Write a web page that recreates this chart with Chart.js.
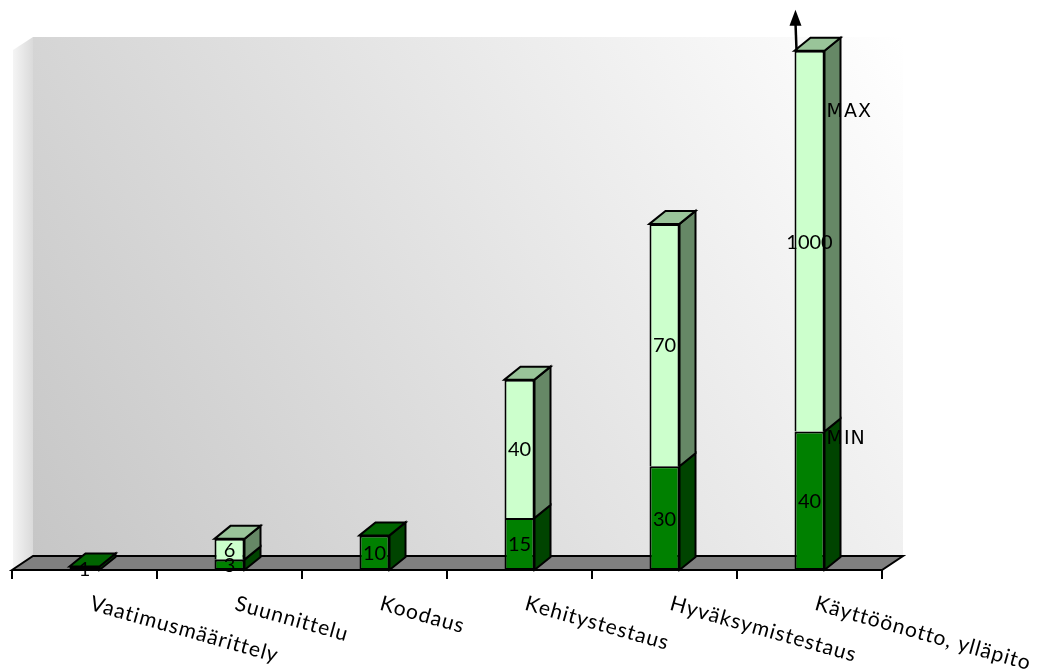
<!DOCTYPE html>
<html>
<head>
<meta charset="utf-8">
<script src="https://cdn.jsdelivr.net/npm/chart.js@4"></script>
<style>
  html, body { margin: 0; padding: 0; background: #fff; }
  #wrap { width: 1039px; height: 672px; position: relative; }
</style>
</head>
<body>
<div id="wrap"><canvas id="chart"></canvas></div>
<script>
// Datos del gráfico
const categories = ['Vaatimusmäärittely', 'Suunnittelu', 'Koodaus', 'Kehitystestaus', 'Hyväksymistestaus', 'Käyttöönotto, ylläpito'];
const minValues = [1, 3, 10, 15, 30, 40];
const maxValues = [null, 6, null, 40, 70, 110]; // last bar is cut (arrow), label says 1000
const minLabels = ['1', '3', '10', '15', '30', '40'];
const maxLabels = ['', '6', '', '40', '70', '1000'];
const seriesNames = ['MIN', 'MAX'];

const DX = 16, DY = -13;          // bar depth
const FDX = 21, FDY = -14;        // floor depth

function poly(ctx, pts, fill) {
    ctx.beginPath();
    ctx.moveTo(pts[0][0], pts[0][1]);
    for (let i = 1; i < pts.length; i++) ctx.lineTo(pts[i][0], pts[i][1]);
    ctx.closePath();
    if (fill) { ctx.fillStyle = fill; ctx.fill(); }
    ctx.lineWidth = 2;
    ctx.strokeStyle = '#000';
    ctx.stroke();
}

const sideColors = ['#004400', '#668866'];
const topColors = ['#006400', '#99c499'];

const plot3d = {
    id: 'plot3d',
    beforeDatasetsDraw(chart) {
        const ctx = chart.ctx;
        const a = chart.chartArea;
        const floorY = a.bottom;
        ctx.save();
        // left wall
        let g = ctx.createLinearGradient(a.left, 0, a.left + FDX, 0);
        g.addColorStop(0, '#f6f6f6');
        g.addColorStop(1, '#dadada');
        ctx.fillStyle = g;
        ctx.beginPath();
        ctx.moveTo(a.left + 1, a.top + 13);
        ctx.lineTo(a.left + FDX, a.top);
        ctx.lineTo(a.left + FDX, floorY + FDY);
        ctx.lineTo(a.left + 1, floorY);
        ctx.closePath();
        ctx.fill();
        // back wall
        g = ctx.createLinearGradient(a.left + FDX, floorY + FDY, a.right + FDX, a.top);
        g.addColorStop(0, '#c6c6c6');
        g.addColorStop(1, '#ffffff');
        ctx.fillStyle = g;
        ctx.fillRect(a.left + FDX, a.top, a.right - a.left, floorY + FDY - a.top);
        // floor
        poly(ctx, [[a.left, floorY], [a.left + FDX, floorY + FDY], [a.right + FDX, floorY + FDY], [a.right, floorY]], '#808080');
        // axis line and ticks
        ctx.beginPath();
        for (let i = 0; i <= categories.length; i++) {
            const px = a.left + i * (a.right - a.left) / categories.length;
            ctx.moveTo(px, floorY);
            ctx.lineTo(px, floorY + 9);
        }
        ctx.moveTo(a.left, floorY);
        ctx.lineTo(a.right, floorY);
        ctx.lineWidth = 2;
        ctx.strokeStyle = '#000';
        ctx.stroke();
        ctx.restore();
    },
    afterDatasetsDraw(chart) {
        const ctx = chart.ctx;
        ctx.save();
        categories.forEach((c, i) => {
            let topEl = null;
            chart.data.datasets.forEach((ds, d) => {
                const v = ds.data[i];
                if (v === null || v === undefined) return;
                const el = chart.getDatasetMeta(d).data[i];
                const l = el.x - el.width / 2, r = el.x + el.width / 2;
                poly(ctx, [[r, el.y], [r + DX, el.y + DY], [r + DX, el.base + DY], [r, el.base]], sideColors[d]);
                topEl = { el, d, l, r };
            });
            if (topEl) {
                const { el, d, l, r } = topEl;
                poly(ctx, [[l, el.y], [l + DX, el.y + DY], [r + DX, el.y + DY], [r, el.y]], topColors[d]);
            }
        });
        // data labels
        ctx.fillStyle = '#000';
        ctx.font = '20px Lato';
        ctx.textAlign = 'center';
        ctx.textBaseline = 'middle';
        const labelSets = [minLabels, maxLabels];
        chart.data.datasets.forEach((ds, d) => {
            chart.getDatasetMeta(d).data.forEach((el, i) => {
                const t = labelSets[d][i];
                if (!t) return;
                ctx.fillText(t, el.x, (el.y + el.base) / 2 + 1);
            });
        });
        // series names beside the last bar
        const last = categories.length - 1;
        const eMin = chart.getDatasetMeta(0).data[last];
        const eMax = chart.getDatasetMeta(1).data[last];
        ctx.font = '19px "DejaVu Sans"';
        ctx.letterSpacing = '1px';
        ctx.textAlign = 'left';
        ctx.fillText(seriesNames[0], eMin.x + eMin.width / 2 + 2, eMin.y + 8);
        ctx.fillText(seriesNames[1], eMax.x + eMax.width / 2 + 2, eMax.y + 61);
        ctx.letterSpacing = '0px';
        // arrow: bar is cut
        const ax = eMax.x - eMax.width / 2 + 2;
        ctx.beginPath();
        ctx.moveTo(ax, eMax.y - 1);
        ctx.lineTo(ax - 1, eMax.y - 28);
        ctx.lineWidth = 2.5;
        ctx.strokeStyle = '#000';
        ctx.stroke();
        ctx.beginPath();
        ctx.moveTo(ax - 1, eMax.y - 41);
        ctx.lineTo(ax - 7, eMax.y - 25);
        ctx.lineTo(ax + 5, eMax.y - 25);
        ctx.closePath();
        ctx.fill();
        ctx.restore();
    },
    afterDraw(chart) {
        const ctx = chart.ctx;
        const x = chart.scales.x;
        ctx.save();
        ctx.fillStyle = '#000';
        ctx.font = '21px Lato';
        ctx.letterSpacing = '1px';
        ctx.textAlign = 'left';
        ctx.textBaseline = 'top';
        categories.forEach((c, i) => {
            ctx.save();
            ctx.translate(x.getPixelForValue(i) + 9, chart.chartArea.bottom + 23);
            ctx.rotate(0.275);
            ctx.fillText(c, 0, 0);
            ctx.restore();
        });
        ctx.restore();
    }
};

const chart = new Chart(document.getElementById('chart'), {
    type: 'bar',
    data: {
        labels: categories,
        datasets: [
            { label: seriesNames[0], data: minValues, backgroundColor: '#008000', borderSkipped: false },
            { label: seriesNames[1], data: maxValues, backgroundColor: '#ccffcc', borderSkipped: 'bottom' }
        ]
    },
    options: {
        responsive: true,
        maintainAspectRatio: false,
        animation: false,
        layout: { padding: { left: 12, right: 157, top: 37, bottom: 102 } },
        datasets: {
            bar: {
                barPercentage: 0.207,
                categoryPercentage: 1,
                borderColor: '#000',
                borderWidth: 2,
                clip: false
            }
        },
        plugins: { legend: { display: false }, tooltip: { enabled: false } },
        scales: {
            x: { stacked: true, display: false },
            y: { stacked: true, display: false, min: 0, max: 154 }
        }
    },
    plugins: [plot3d]
});
</script>
</body>
</html>
